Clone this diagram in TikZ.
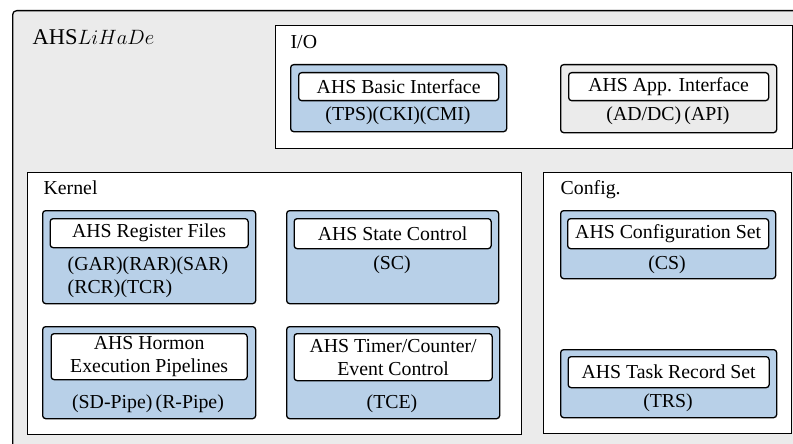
\documentclass[tikz,border=0pt]{standalone}
\usepackage{fontspec}
\setmainfont{Liberation Serif}
\usetikzlibrary{positioning}

\definecolor{ahsblue}{HTML}{B8D0E8}
\definecolor{ahsgray}{HTML}{EBEBEB}

\begin{document}
\begin{tikzpicture}[
		x=1pt, y=-1pt,
		every node/.style={
			font=\fontsize{19.8}{23}\selectfont,
			line width=1.3pt,
			inner sep=0pt
		},
		sysbox/.style={draw, fill=ahsgray, rounded corners=4pt, anchor=north west},
		groupbox/.style={draw, fill=white, anchor=north west},
		unitbox/.style={draw, fill=ahsblue, rounded corners=3pt, anchor=north west},
		appbox/.style={unitbox, fill=ahsgray},
		namebox/.style={draw, fill=white, rounded corners=3pt, align=center,
			minimum width=#1, anchor=north},
		namebox/.default=200pt,
		grouplabel/.style={anchor=base west}
		]

		\useasboundingbox (0,0) rectangle (793,444);

		% whole system
		\node[sysbox, minimum width=820pt, minimum height=460pt] (ahs) at (12,10) {};
		\node[grouplabel, font=\fontsize{22.5}{26}\selectfont] (ahslabel) at (32,45) {AHS$LiHaDe$};

		% I/O
		\node[groupbox, minimum width=517pt, minimum height=123pt] (io) at (275,25) {};
		\node[grouplabel] (iolabel) at (290,49) {I/O};

		\node[unitbox, minimum width=216pt, minimum height=67pt] (bi) at (290,64) {};
		\node[namebox, minimum height=28pt, below=8pt of bi.north] (biname) {AHS Basic Interface};
		\node (bicode) at (398,116) {(TPS)(CKI)(CMI)};

		\node[appbox, minimum width=216pt, minimum height=68pt] (ai) at (560,64) {};
		\node[namebox, minimum height=28pt, below=8pt of ai.north] (ainame) {AHS App. Interface};
		\node (aicode) at (668,116) {(AD/DC)\,(API)};

		% Kernel
		\node[groupbox, minimum width=494pt, minimum height=262pt] (kernel) at (27,172) {};
		\node[grouplabel] (kernellabel) at (43,194) {Kernel};

		\node[unitbox, minimum width=213pt, minimum height=93pt] (rf) at (42,210) {};
		\node[namebox=198pt, minimum height=29pt, below=8pt of rf.north] (rfname) {AHS Register Files};
		\node[align=left] (rfcode) at (148,277) {(GAR)(RAR)(SAR)\\(RCR)(TCR)};

		\node[unitbox, minimum width=212pt, minimum height=93pt] (sc) at (286,210) {};
		\node[namebox=197pt, minimum height=30pt, below=8pt of sc.north] (scname) {AHS State Control};
		\node (sccode) at (392,265) {(SC)};

		\node[unitbox, minimum width=213pt, minimum height=92pt] (hp) at (42,326) {};
		\node[namebox=196pt, minimum height=46pt, below=7pt of hp.north] (hpname) {AHS Hormon\\Execution Pipelines};
		\node (hpcode) at (148,404) {(SD-Pipe)\,(R-Pipe)};

		\node[unitbox, minimum width=213pt, minimum height=92pt] (tc) at (286,326) {};
		\node[namebox=198pt, minimum height=47pt, below=7pt of tc.north] (tcname) {AHS Timer/Counter/\\Event Control};
		\node (tccode) at (392,404) {(TCE)};

		% Config.
		\node[groupbox, minimum width=248pt, minimum height=261pt] (config) at (543,172) {};
		\node[grouplabel] (configlabel) at (560,194) {Config.};

		\node[unitbox, minimum width=215pt, minimum height=68pt] (cs) at (560,210) {};
		\node[namebox=201pt, minimum height=30pt, below=8pt of cs.north] (csname) {AHS Configuration Set};
		\node (cscode) at (667,265) {(CS)};

		\node[unitbox, minimum width=216pt, minimum height=68pt] (tr) at (560,349) {};
		\node[namebox=201pt, minimum height=31pt, below=7pt of tr.north] (trname) {AHS Task Record Set};
		\node (trcode) at (668,403) {(TRS)};
	\end{tikzpicture}
\end{document}
